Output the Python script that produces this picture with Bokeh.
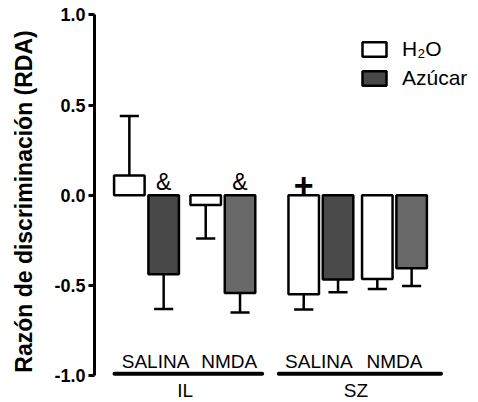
from bokeh.plotting import figure
from bokeh.models import (ColumnDataSource, Range1d, FixedTicker, Legend, LegendItem)
from bokeh.core.properties import value
from bokeh.embed import file_html
from bokeh.resources import INLINE

# ---------------- data ----------------
regions = ["IL", "SZ"]
conditions = ["SALINA", "NMDA", "SALINA", "NMDA"]
series = ["H\u2082O", "Azúcar"]
h2o_mean = [0.11, -0.054, -0.549, -0.464]
h2o_sem = [0.33, 0.186, 0.085, 0.056]
sugar_mean = [-0.438, -0.542, -0.468, -0.405]
sugar_sem = [0.193, 0.109, 0.07, 0.098]
annotations = ["", "&", "", "&", "+", "", "", ""]   # per bar: H2O, Azúcar for each group
y_ticks = [-1.0, -0.5, 0.0, 0.5, 1.0]
y_tick_labels = ["-1.0", "-0.5", "0.0", "0.5", "1.0"]

# ---------------- layout ----------------
FONT = "Liberation Sans"
pair_x = [1.576, 3.89, 6.86, 9.09]
half = 0.52
bar_w = 0.925
cap_w = 0.58
sugar_colors = ["#484848", "#686868", "#4a4a4a", "#686868"]
cond_label_x = [1.85, 4.08, 6.80, 9.09]
region_line = [(0.606, 5.08), (5.585, 10.5)]
region_label_x = [2.75, 7.92]

p = figure(width=478, height=402, output_backend="svg", toolbar_location=None,
           x_range=Range1d(0, 384 / 33.0), y_range=Range1d(-1.1498, 1.0804),
           x_axis_location=None, y_axis_location="left",
           min_border_left=94, min_border_right=0, min_border_top=0, min_border_bottom=0)
p.outline_line_color = None
p.xgrid.visible = False
p.ygrid.visible = False
p.background_fill_color = "white"
p.border_fill_color = "white"

h2o_x = [c - half for c in pair_x]
sug_x = [c + half for c in pair_x]

def err_end(m, s):
    return m + s if m > 0 else m - s

h2o_src = ColumnDataSource(dict(x=h2o_x, top=h2o_mean, bottom=[0] * 4))
sug_src = ColumnDataSource(dict(x=sug_x, top=sugar_mean, bottom=[0] * 4, color=sugar_colors))

r_h2o = p.vbar(x="x", top="top", bottom="bottom", width=bar_w, source=h2o_src,
               fill_color="white", line_color="black", line_width=2.5)
r_sug = p.vbar(x="x", top="top", bottom="bottom", width=bar_w, source=sug_src,
               fill_color="color", line_color="black", line_width=2.5)

# error bars
all_x = []
all_m = []
all_s = []
for i in range(4):
    all_x += [h2o_x[i], sug_x[i]]
    all_m += [h2o_mean[i], sugar_mean[i]]
    all_s += [h2o_sem[i], sugar_sem[i]]
ends = [err_end(m, s) for m, s in zip(all_m, all_s)]
p.segment(x0=all_x, y0=all_m, x1=all_x, y1=ends, line_color="black", line_width=2.5)
p.segment(x0=[x - cap_w / 2 for x in all_x], y0=ends, x1=[x + cap_w / 2 for x in all_x], y1=ends,
          line_color="black", line_width=2.5)

# significance marks
amp_x = [x for x, a in zip(all_x, annotations) if a == "&"]
amp_t = [a for a in annotations if a == "&"]
p.text(x=amp_x, y=[0.074] * len(amp_x), text=amp_t, text_font=value(FONT),
       text_font_size="23px", text_align="center", text_baseline="middle", text_color="black")
plus_x = [x for x, a in zip(all_x, annotations) if a == "+"]
plus_t = [a for a in annotations if a == "+"]
p.text(x=plus_x, y=[0.055] * len(plus_x), text=plus_t, text_font=value(FONT),
       text_font_size="34px", text_font_style="bold", text_align="center",
       text_baseline="middle", text_color="black")

# condition labels, region lines & region labels
p.text(x=cond_label_x, y=[-0.921] * 4, text=conditions, text_font=value(FONT),
       text_font_size="19px", text_align="center", text_baseline="middle", text_color="black")
p.segment(x0=[a for a, b in region_line], y0=[-0.99] * 2, x1=[b for a, b in region_line],
          y1=[-0.99] * 2, line_color="black", line_width=4, line_cap="round")
p.text(x=region_label_x, y=[-1.082] * 2, text=regions, text_font=value(FONT),
       text_font_size="19px", text_align="center", text_baseline="middle", text_color="black")

# y axis
ax = p.yaxis[0]
ax.ticker = FixedTicker(ticks=y_ticks, minor_ticks=[])
ax.major_label_overrides = {t: l for t, l in zip(y_ticks, y_tick_labels)}
ax.bounds = (-1.0, 1.0)
ax.axis_line_width = 3
ax.axis_line_color = "black"
ax.major_tick_line_width = 3
ax.major_tick_out = 6
ax.major_tick_in = 0
ax.minor_tick_line_color = None
ax.major_label_text_font = FONT
ax.major_label_text_font_size = "18px"
ax.major_label_text_font_style = "bold"
ax.major_label_text_color = "black"
ax.major_label_standoff = 3
ax.axis_label = "Razón de discriminación (RDA)"
ax.axis_label_text_font = FONT
ax.axis_label_text_font_size = "23px"
ax.axis_label_text_font_style = "bold"
ax.axis_label_text_color = "black"
ax.axis_label_standoff = 14

legend = Legend(items=[LegendItem(label=series[0], renderers=[r_h2o], index=0),
                       LegendItem(label=series[1], renderers=[r_sug], index=0)],
                location=(265, 312), glyph_width=30, glyph_height=18, label_height=18,
                label_standoff=13, spacing=5, padding=0, margin=0,
                border_line_color=None, background_fill_alpha=0,
                label_text_font=FONT, label_text_font_size="21px", label_text_color="black")
p.add_layout(legend)

open("out.html", "w").write(file_html(p, INLINE))
